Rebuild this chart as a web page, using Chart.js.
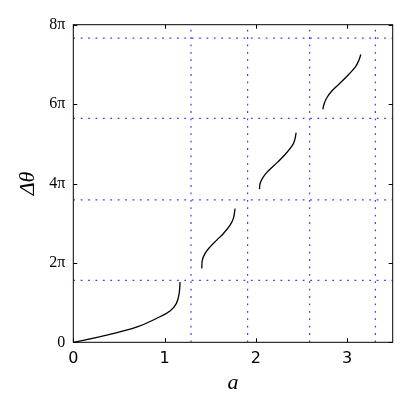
<!DOCTYPE html>
<html>
<head>
<meta charset="utf-8">
<script src="https://cdn.jsdelivr.net/npm/chart.js@4"></script>
<style>
  body { margin: 0; background: #fff; }
</style>
</head>
<body>
<canvas id="graphCanvas" width="409" height="409"></canvas>
<script>
// Curve segments (y in units of pi)
const curve1X = [0, 0.33, 0.70, 0.91, 1.06, 1.13, 1.16, 1.17];
const curve1Y = [0, 0.16, 0.39, 0.60, 0.79, 0.98, 1.23, 1.52];
const curve2X = [1.408, 1.414, 1.444, 1.499, 1.572, 1.645, 1.718, 1.754, 1.773];
const curve2Y = [1.86, 2.07, 2.24, 2.405, 2.574, 2.742, 2.95, 3.12, 3.37];
const curve3X = [2.040, 2.047, 2.077, 2.138, 2.230, 2.321, 2.395, 2.423, 2.442];
const curve3Y = [3.86, 4.00, 4.15, 4.32, 4.52, 4.73, 4.94, 5.07, 5.28];
const curve4X = [2.735, 2.749, 2.778, 2.833, 2.924, 3.015, 3.089, 3.125, 3.151];
const curve4Y = [5.87, 6.01, 6.16, 6.33, 6.53, 6.74, 6.93, 7.08, 7.25];

// Dotted guide lines
const vLines = [1.29, 1.91, 2.59, 3.31];
const hLines = [1.56, 3.59, 5.64, 7.66];

// Axis ticks
const xTicks = [0, 1, 2, 3];
const yTicks = [0, 2, 4, 6, 8];
const xMax = 3.5;
const yMax = 8;

function toPoints(xs, ys) {
    return xs.map((x, i) => ({ x: x, y: ys[i] }));
}

function curveSet(xs, ys) {
    return {
        data: toPoints(xs, ys),
        showLine: true,
        borderColor: "#000",
        borderWidth: 1.3,
        pointRadius: 0,
        tension: 0.4,
        fill: false
    };
}

function guideSet(points) {
    return {
        data: points,
        showLine: true,
        borderColor: "#3c3cff",
        borderWidth: 1.2,
        borderDash: [1.8, 5.6],
        pointRadius: 0,
        fill: false
    };
}

const datasets = [
    curveSet(curve1X, curve1Y),
    curveSet(curve2X, curve2Y),
    curveSet(curve3X, curve3Y),
    curveSet(curve4X, curve4Y)
];
vLines.forEach(v => datasets.push(guideSet([{ x: v, y: 0 }, { x: v, y: yMax }])));
hLines.forEach(h => datasets.push(guideSet([{ x: 0, y: h }, { x: xMax, y: h }])));

// Frame and inward ticks on all four sides
const framePlugin = {
    id: "frame",
    afterDraw(chart) {
        const ctx = chart.ctx;
        const { left, right, top, bottom } = chart.chartArea;
        const sx = chart.scales.x, sy = chart.scales.y;
        ctx.save();
        ctx.strokeStyle = "#000";
        ctx.lineWidth = 1;
        ctx.strokeRect(left, top, right - left, bottom - top);
        ctx.beginPath();
        xTicks.forEach(v => {
            const px = Math.round(sx.getPixelForValue(v)) + 0.5;
            ctx.moveTo(px, bottom); ctx.lineTo(px, bottom - 4);
            ctx.moveTo(px, top); ctx.lineTo(px, top + 4);
        });
        yTicks.forEach(v => {
            const py = Math.round(sy.getPixelForValue(v)) + 0.5;
            ctx.moveTo(left, py); ctx.lineTo(left + 4, py);
            ctx.moveTo(right, py); ctx.lineTo(right - 4, py);
        });
        ctx.stroke();
        ctx.restore();
    }
};

const ctx = document.getElementById("graphCanvas").getContext("2d");
new Chart(ctx, {
    type: "scatter",
    data: { datasets: datasets },
    options: {
        responsive: false,
        animation: false,
        layout: { padding: { top: 24.7, right: 16.3, left: 0, bottom: 0 } },
        plugins: { legend: { display: false }, tooltip: { enabled: false } },
        scales: {
            x: {
                min: 0, max: xMax,
                afterBuildTicks: s => { s.ticks = xTicks.map(v => ({ value: v })); },
                afterFit: s => { s.height = 66.7; },
                grid: { display: false, drawTicks: false },
                border: { display: false },
                ticks: {
                    color: "#000", padding: 7,
                    font: { family: "DejaVu Sans", size: 16 },
                    callback: v => String(v)
                },
                title: {
                    display: true, text: "a", color: "#000",
                    font: { family: "Liberation Serif", size: 22, style: "italic" },
                    padding: { top: 0, bottom: 13 }
                }
            },
            y: {
                min: 0, max: yMax,
                afterBuildTicks: s => { s.ticks = yTicks.map(v => ({ value: v })); },
                afterFit: s => { s.width = 73.3; },
                grid: { display: false, drawTicks: false },
                border: { display: false },
                ticks: {
                    color: "#000", padding: 8,
                    font: { family: "Liberation Serif", size: 16 },
                    callback: v => (v === 0 ? "0" : v + "π")
                },
                title: {
                    display: true, text: "Δθ", color: "#000",
                    font: { family: "Liberation Serif", size: 22, style: "italic" },
                    padding: { top: 15, bottom: 0 }
                }
            }
        }
    },
    plugins: [framePlugin]
});
</script>
</body>
</html>
